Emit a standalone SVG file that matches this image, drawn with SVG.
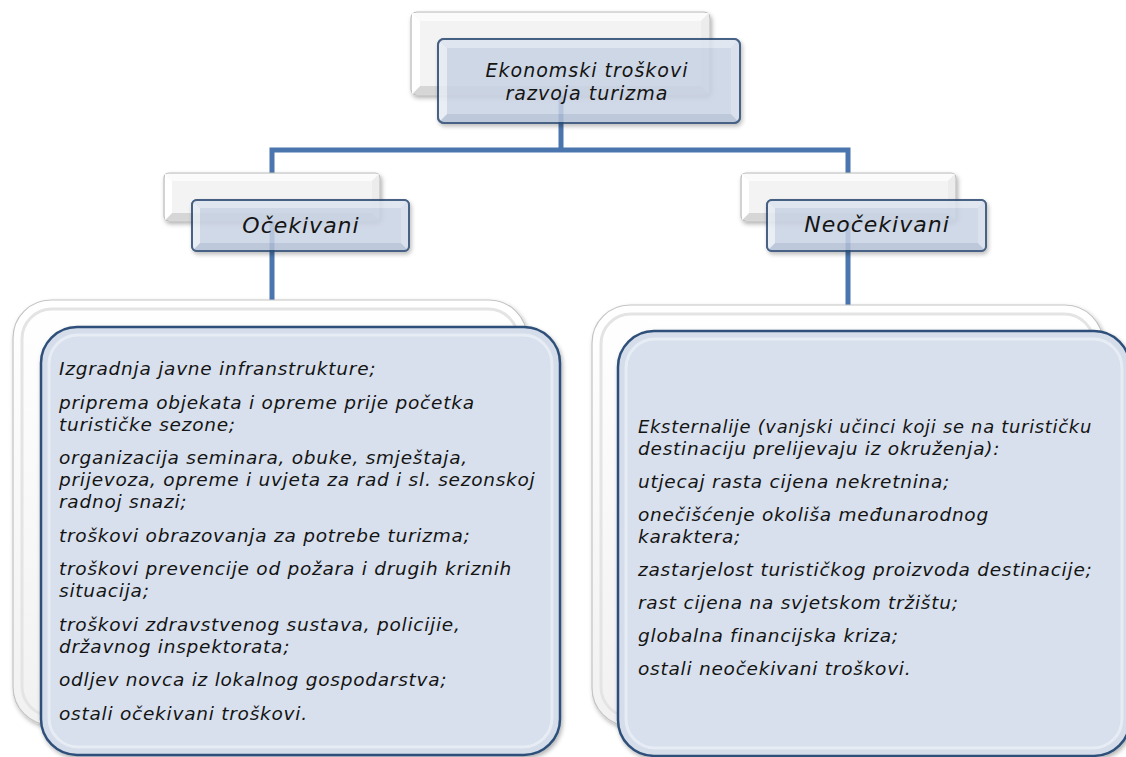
<svg xmlns="http://www.w3.org/2000/svg" width="1126" height="757" viewBox="0 0 1126 757">
<defs>
<filter id="sh" x="-10%" y="-10%" width="130%" height="140%">
<feDropShadow dx="1.5" dy="2.5" stdDeviation="2" flood-color="#000" flood-opacity="0.3"/>
</filter>
<linearGradient id="wg" x1="0" y1="0" x2="0" y2="1">
<stop offset="0" stop-color="#ffffff"/>
<stop offset="1" stop-color="#f1f1f1"/>
</linearGradient>
</defs>
<style>
.t{font-family:"DejaVu Sans","Liberation Sans",sans-serif;font-style:italic;fill:#141414}
.body{font-size:18.5px;letter-spacing:0.75px}
.title{font-size:19px;letter-spacing:1px;text-anchor:middle}
.lab{font-size:22px;letter-spacing:1px;text-anchor:middle}
.conn{fill:none;stroke:#4a75ad;stroke-width:5;stroke-linejoin:miter}
.bk{fill:#f3f3f3;stroke:#bdbdbd;stroke-width:1.2}
.bkt{fill:#fbfbfb}.bkl{fill:#ffffff}.bkr{fill:#ececec}.bkb{fill:#d6d6d6}
.fr{fill:#c9d3e4;stroke:#2c4a72;stroke-width:2}
.frt{fill:#dde4ef}.frl{fill:#e6ebf3}.frr{fill:#d5dcea}.frb{fill:#b3c0d5}
.frbox{opacity:0.86}
.bigbk{fill:url(#wg);stroke:#c4c4c4;stroke-width:1.2}
.bigbkin{fill:none;stroke:#e4e4e4;stroke-width:3}
.bigfr{fill:#d5ddeb;stroke:#2f5079;stroke-width:2.5}
.bigfrin{fill:#d8e0ed;stroke:#eef2f8;stroke-width:3;stroke-opacity:0.7}
</style>

<g id="connectors">
<path class="conn" d="M561 95 V150"/>
<path class="conn" d="M272 300 V150 H848 V305"/>
</g>

<g id="node-root">
<g filter="url(#sh)">
<rect class="bk" x="411" y="12" width="299" height="83" rx="6"/>
</g>
<polygon class="bkt" points="412,13 709,13 701,21 420,21"/>
<polygon class="bkb" points="412,94 709,94 701,86 420,86"/>
<polygon class="bkl" points="412,13 420,21 420,86 412,94"/>
<polygon class="bkr" points="709,13 701,21 701,86 709,94"/>
<g class="frbox" filter="url(#sh)">
<rect class="fr" x="438" y="39" width="302" height="84" rx="6"/>
<polygon class="frt" points="439,40 739,40 731,48 447,48"/>
<polygon class="frb" points="439,122 739,122 731,114 447,114"/>
<polygon class="frl" points="439,40 447,48 447,114 439,122"/>
<polygon class="frr" points="739,40 731,48 731,114 739,122"/>
<rect x="438" y="39" width="302" height="84" rx="6" fill="none" stroke="#2c4a72" stroke-width="2"/>
</g>
<text class="t title" x="587" y="77">Ekonomski troškovi</text>
<text class="t title" x="587" y="100">razvoja turizma</text>
</g>

<g id="node-ocekivani">
<g filter="url(#sh)">
<rect class="bk" x="164" y="173" width="216" height="48" rx="5"/>
</g>
<polygon class="bkt" points="165,174 379,174 372,181 172,181"/>
<polygon class="bkb" points="165,220 379,220 372,213 172,213"/>
<polygon class="bkl" points="165,174 172,181 172,213 165,220"/>
<polygon class="bkr" points="379,174 372,181 372,213 379,220"/>
<g class="frbox" filter="url(#sh)">
<rect class="fr" x="192" y="200" width="217" height="51" rx="5"/>
<polygon class="frt" points="193,201 408,201 401,208 200,208"/>
<polygon class="frb" points="193,250 408,250 401,243 200,243"/>
<polygon class="frl" points="193,201 200,208 200,243 193,250"/>
<polygon class="frr" points="408,201 401,208 401,243 408,250"/>
<rect x="192" y="200" width="217" height="51" rx="5" fill="none" stroke="#2c4a72" stroke-width="2"/>
</g>
<text class="t lab" x="301" y="233">Očekivani</text>
</g>

<g id="node-neocekivani">
<g filter="url(#sh)">
<rect class="bk" x="741" y="173" width="215" height="48" rx="5"/>
</g>
<polygon class="bkt" points="742,174 955,174 948,181 749,181"/>
<polygon class="bkb" points="742,220 955,220 948,213 749,213"/>
<polygon class="bkl" points="742,174 749,181 749,213 742,220"/>
<polygon class="bkr" points="955,174 948,181 948,213 955,220"/>
<g class="frbox" filter="url(#sh)">
<rect class="fr" x="767" y="200" width="219" height="51" rx="5"/>
<polygon class="frt" points="768,201 985,201 978,208 775,208"/>
<polygon class="frb" points="768,250 985,250 978,243 775,243"/>
<polygon class="frl" points="768,201 775,208 775,243 768,250"/>
<polygon class="frr" points="985,201 978,208 978,243 985,250"/>
<rect x="767" y="200" width="219" height="51" rx="5" fill="none" stroke="#2c4a72" stroke-width="2"/>
</g>
<text class="t lab" x="877" y="232">Neočekivani</text>
</g>

<g id="node-ocekivani-list">
<g filter="url(#sh)">
<rect class="bigbk" x="13" y="300" width="514" height="425" rx="38"/>
</g>
<rect class="bigbkin" x="22" y="309" width="496" height="407" rx="30"/>
<g filter="url(#sh)">
<rect class="bigfr" x="41" y="327" width="519" height="428" rx="36"/>
</g>
<rect class="bigfrin" x="49" y="335" width="503" height="412" rx="29"/>
<text class="t body" x="59" y="375">Izgradnja javne infranstrukture;</text>
<text class="t body" x="59" y="408.5">priprema objekata i opreme prije početka</text>
<text class="t body" x="59" y="430.5">turističke sezone;</text>
<text class="t body" x="59" y="464">organizacija seminara, obuke, smještaja,</text>
<text class="t body" x="59" y="486">prijevoza, opreme i uvjeta za rad i sl. sezonskoj</text>
<text class="t body" x="59" y="508">radnoj snazi;</text>
<text class="t body" x="59" y="541.5">troškovi obrazovanja za potrebe turizma;</text>
<text class="t body" x="59" y="575">troškovi prevencije od požara i drugih kriznih</text>
<text class="t body" x="59" y="597">situacija;</text>
<text class="t body" x="59" y="630.5">troškovi zdravstvenog sustava, policijie,</text>
<text class="t body" x="59" y="652.5">državnog inspektorata;</text>
<text class="t body" x="59" y="686">odljev novca iz lokalnog gospodarstva;</text>
<text class="t body" x="59" y="719.5">ostali očekivani troškovi.</text>
</g>

<g id="node-neocekivani-list">
<g filter="url(#sh)">
<rect class="bigbk" x="592" y="305" width="511" height="421" rx="38"/>
</g>
<rect class="bigbkin" x="601" y="314" width="493" height="403" rx="30"/>
<g filter="url(#sh)">
<rect class="bigfr" x="618" y="331" width="512" height="425" rx="36"/>
</g>
<rect class="bigfrin" x="626" y="339" width="496" height="409" rx="29"/>
<text class="t body" x="638" y="433" textLength="454" lengthAdjust="spacingAndGlyphs">Eksternalije (vanjski učinci koji se na turističku</text>
<text class="t body" x="638" y="455">destinaciju prelijevaju iz okruženja):</text>
<text class="t body" x="638" y="488">utjecaj rasta cijena nekretnina;</text>
<text class="t body" x="638" y="521">onečišćenje okoliša međunarodnog</text>
<text class="t body" x="638" y="543">karaktera;</text>
<text class="t body" x="638" y="576">zastarjelost turističkog proizvoda destinacije;</text>
<text class="t body" x="638" y="609">rast cijena na svjetskom tržištu;</text>
<text class="t body" x="638" y="642">globalna financijska kriza;</text>
<text class="t body" x="638" y="675">ostali neočekivani troškovi.</text>
</g>
</svg>
